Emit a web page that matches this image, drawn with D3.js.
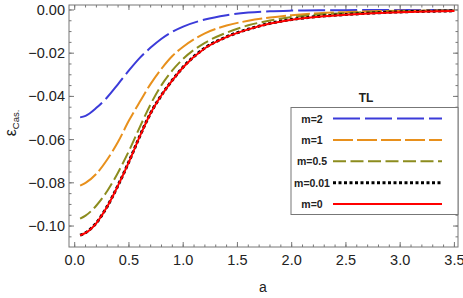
<!DOCTYPE html>
<html>
<head>
<meta charset="utf-8">
<script src="https://cdn.jsdelivr.net/npm/d3@7"></script>
<style>
  body { margin: 0; background: #fff; }
  svg { display: block; font-family: "Liberation Sans", Arial, sans-serif; }
</style>
</head>
<body>
<svg id="chart" width="463" height="298"></svg>
<script>
// data
var aVals = [0.05, 0.1, 0.2, 0.3, 0.4, 0.5, 0.6, 0.7, 0.8, 0.9, 1.0, 1.2, 1.4, 1.6, 1.8, 2.0, 2.25, 2.5, 2.75, 3.0, 3.25, 3.5];
var m2   = [-0.0497, -0.0490, -0.0453, -0.0404, -0.0343, -0.0280, -0.0222, -0.0174, -0.0133, -0.0101, -0.0077, -0.0044, -0.0024, -0.0012, -0.0006, -0.0003, -0.0001, -0.0001, 0, 0, 0, 0];
var m1   = [-0.0813, -0.0800, -0.0758, -0.0692, -0.0610, -0.0512, -0.0425, -0.0342, -0.0272, -0.0213, -0.0170, -0.0108, -0.0072, -0.0050, -0.0035, -0.0024, -0.0015, -0.0010, -0.0006, -0.0004, -0.0003, -0.0002];
var m05  = [-0.0966, -0.0952, -0.0905, -0.0838, -0.0752, -0.0652, -0.0542, -0.0436, -0.0348, -0.0280, -0.0226, -0.0152, -0.0105, -0.0071, -0.0049, -0.0033, -0.0021, -0.0014, -0.0009, -0.0006, -0.0004, -0.0003];
var m001 = [-0.1042, -0.1031, -0.0985, -0.0909, -0.0811, -0.0702, -0.0584, -0.0477, -0.0394, -0.0325, -0.0264, -0.0176, -0.0124, -0.0089, -0.0062, -0.0044, -0.0030, -0.0021, -0.0014, -0.0009, -0.0006, -0.0004];
var m0   = [-0.1043, -0.1032, -0.0986, -0.0910, -0.0812, -0.0703, -0.0585, -0.0478, -0.0395, -0.0326, -0.0265, -0.0177, -0.0125, -0.0090, -0.0063, -0.0045, -0.0031, -0.0022, -0.0015, -0.0010, -0.0007, -0.0005];

var labels = ["m=2", "m=1", "m=0.5", "m=0.01", "m=0"];
var colors = ["#3b3bd9", "#e8901c", "#8c8c1e", "#000000", "#ff0000"];
var dashes = ["27,5", "20,4", "13,4.5", "3,2.5", null];
var widths = [2, 2, 2, 3, 2];

var xTicks = [0, 0.5, 1, 1.5, 2, 2.5, 3, 3.5];
var yTicks = [0, -0.02, -0.04, -0.06, -0.08, -0.10];

var series = [m2, m1, m05, m001, m0].map(function(vals, i) {
	return { label: labels[i], color: colors[i], dash: dashes[i], width: widths[i],
		points: aVals.map(function(a, j) { return [a, vals[j]]; }) };
});

var plotL = 69, plotR = 458, plotT = 5, plotB = 247;
var svg = d3.select('#chart');

var x = d3.scaleLinear().domain([-0.0525, 3.533]).range([plotL, plotR]);
var y = d3.scaleLinear().domain([-0.1097, 0.0023]).range([plotB, plotT]);

var frameColor = "#777";
var textColor = "#222";

// minor / major ticks on all sides
var xMinor = d3.range(0, 3.55, 0.1);
var yMinor = d3.range(-0.105, 0.001, 0.005);

function tickLines(sel, vals, len, orient) {
	vals.forEach(function(v) {
		var p;
		if (orient == 'b') p = [x(v), plotB, x(v), plotB - len];
		if (orient == 't') p = [x(v), plotT, x(v), plotT + len];
		if (orient == 'l') p = [plotL, y(v), plotL + len, y(v)];
		if (orient == 'r') p = [plotR, y(v), plotR - len, y(v)];
		sel.append('line').attr('x1', p[0]).attr('y1', p[1]).attr('x2', p[2]).attr('y2', p[3])
			.attr('stroke', frameColor).attr('stroke-width', 1);
	});
}
var ticks = svg.append('g');
['b', 't'].forEach(function(o) { tickLines(ticks, xMinor, 2.5, o); tickLines(ticks, xTicks, 5, o); });
['l', 'r'].forEach(function(o) { tickLines(ticks, yMinor, 2.5, o); tickLines(ticks, yTicks, 5, o); });

// curves
var line = d3.line().x(function(d) { return x(d[0]); }).y(function(d) { return y(d[1]); })
	.curve(d3.curveMonotoneX);

svg.append('g').selectAll('path').data(series).enter().append('path')
	.attr('d', function(d) { return line(d.points); })
	.attr('fill', 'none')
	.attr('stroke', function(d) { return d.color; })
	.attr('stroke-width', function(d) { return d.width; })
	.attr('stroke-dasharray', function(d) { return d.dash; });

// frame
svg.append('rect').attr('x', plotL).attr('y', plotT).attr('width', plotR - plotL).attr('height', plotB - plotT)
	.attr('fill', 'none').attr('stroke', frameColor).attr('stroke-width', 1);

// tick labels
svg.append('g').selectAll('text').data(xTicks).enter().append('text')
	.attr('x', function(d) { return x(d); }).attr('y', 265)
	.attr('text-anchor', 'middle').attr('font-size', 14.5).attr('fill', textColor)
	.text(function(d) { return d.toFixed(1); });

svg.append('g').selectAll('text').data(yTicks).enter().append('text')
	.attr('x', 65).attr('y', function(d) { return y(d) + 5; })
	.attr('text-anchor', 'end').attr('font-size', 14.5).attr('fill', textColor)
	.text(function(d) { return d == 0 ? "0.00" : "\u2212" + Math.abs(d).toFixed(2); });

// axis titles
svg.append('text').attr('x', 263).attr('y', 292).attr('text-anchor', 'middle')
	.attr('font-size', 14).attr('fill', textColor).text('a');

var yl = svg.append('text').attr('transform', 'translate(16,123) rotate(-90)')
	.attr('text-anchor', 'middle').attr('fill', textColor);
yl.append('tspan').attr('font-size', 16).text('\u03b5');
yl.append('tspan').attr('font-size', 9.5).attr('dy', 3).text('Cas.');

// legend
var lg = svg.append('g');
lg.append('text').attr('x', 366).attr('y', 102).attr('text-anchor', 'middle')
	.attr('font-size', 12).attr('font-weight', 'bold').attr('fill', textColor).text('TL');
lg.append('rect').attr('x', 291).attr('y', 107.5).attr('width', 167).attr('height', 107)
	.attr('fill', '#fff').attr('stroke', frameColor).attr('stroke-width', 1);

var rows = lg.selectAll('g.row').data(series).enter().append('g').attr('class', 'row')
	.attr('transform', function(d, i) { return 'translate(0,' + (118.5 + i * 21.4) + ')'; });
rows.append('text').attr('x', 312).attr('y', 4).attr('text-anchor', 'middle')
	.attr('font-size', 10.5).attr('font-weight', 'bold').attr('fill', textColor)
	.text(function(d) { return d.label; });
rows.append('line').attr('x1', 333).attr('x2', 442).attr('y1', 0).attr('y2', 0)
	.attr('stroke', function(d) { return d.color; })
	.attr('stroke-width', function(d) { return d.width; })
	.attr('stroke-dasharray', function(d) { return d.dash; });
</script>
</body>
</html>
